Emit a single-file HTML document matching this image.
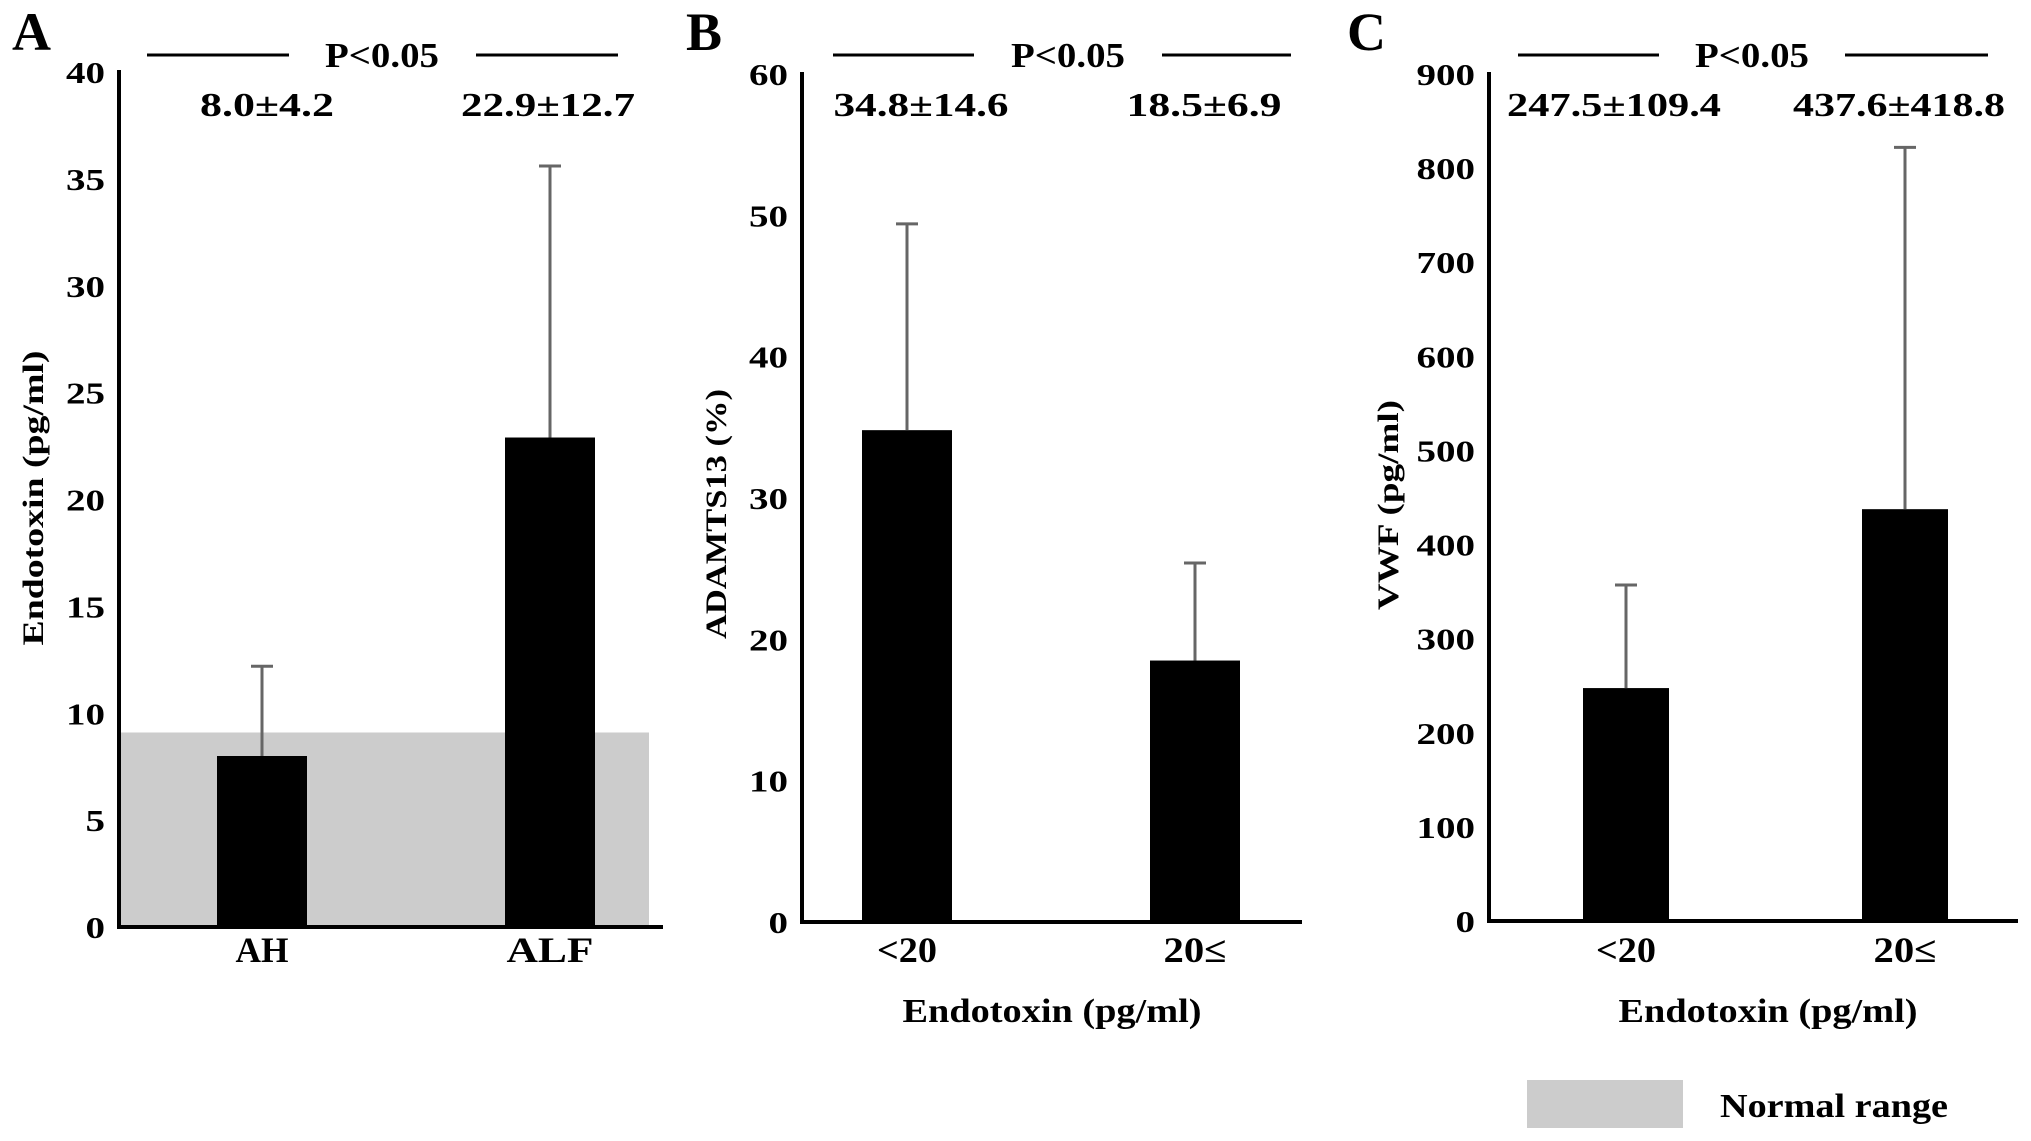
<!DOCTYPE html>
<html><head><meta charset="utf-8"><style>
html,body{margin:0;padding:0;background:#fff}
svg{display:block}
text{font-family:"Liberation Serif","DejaVu Serif",serif;font-weight:bold;fill:#000}
</style></head><body>
<svg id="chart" width="2031" height="1141" viewBox="0 0 2031 1141" xmlns="http://www.w3.org/2000/svg"></svg>
<script>
// Panel A data
const aCategories = ["AH", "ALF"];
const aMeans = [8.0, 22.9];
const aErrTops = [12.2, 35.6];
const aLabels = ["8.0±4.2", "22.9±12.7"];
const aTicks = [0, 5, 10, 15, 20, 25, 30, 35, 40];
const aNormalTop = [9.1];
// Panel B data
const bCategories = ["<20", "20≤"];
const bMeans = [34.8, 18.5];
const bErrTops = [49.4, 25.4];
const bLabels = ["34.8±14.6", "18.5±6.9"];
const bTicks = [0, 10, 20, 30, 40, 50, 60];
// Panel C data
const cCategories = ["<20", "20≤"];
const cMeans = [247.5, 437.6];
const cErrTops = [357, 822];
const cLabels = ["247.5±109.4", "437.6±418.8"];
const cTicks = [0, 100, 200, 300, 400, 500, 600, 700, 800, 900];

const NS = "http://www.w3.org/2000/svg";
const svg = document.getElementById("chart");
function mk(tag, attrs, parent, txt) {
  const e = document.createElementNS(NS, tag);
  for (const k in attrs) e.setAttribute(k, attrs[k]);
  if (txt !== undefined) e.textContent = txt;
  (parent || svg).appendChild(e);
  return e;
}

function panel(cfg) {
  const g = mk("g", {});
  
  
  const max = cfg.ticks[cfg.ticks.length - 1];
  const y = v => cfg.y0 - (v / max) * (cfg.y0 - cfg.yTop);
  if (cfg.normal) {
    const band = mk("rect", {x: cfg.ax, y: y(cfg.normal[0]), width: cfg.bandEnd - cfg.ax, height: cfg.y0 - y(cfg.normal[0]), fill: "#cccccc"}, g);
    
    
  }
  cfg.means.forEach((m, i) => {
    const bx = cfg.barX[i];
    const bar = mk("rect", {x: bx, y: y(m), width: cfg.barW, height: cfg.y0 - y(m), fill: "#000"}, g);
    
    
    const cx = bx + cfg.barW / 2;
    const eb = mk("path", {d: `M${cx} ${y(m)} V${y(cfg.errTops[i])} M${cx - 11} ${y(cfg.errTops[i])} H${cx + 11}`, stroke: "#666", "stroke-width": 3, fill: "none"}, g);
    
    
    const lbl = mk("text", {x: cx, y: 962, "font-size": 36, "text-anchor": "middle", textLength: cfg.catLen[i], lengthAdjust: "spacingAndGlyphs"}, g, cfg.cats[i]);
    
    
    const vl = mk("text", {x: cfg.valX[i], y: 116, "font-size": 34, "text-anchor": "middle", textLength: cfg.valLen[i], lengthAdjust: "spacingAndGlyphs"}, g, cfg.labels[i]);
    
    
  });
  const axes = mk("path", {d: `M${cfg.ax} ${cfg.yTop - 2} V${cfg.y0} H${cfg.axEnd}`, stroke: "#000", "stroke-width": 4, fill: "none"}, g);
  
  
  cfg.ticks.forEach(t => {
    const s = String(t);
    const tl = mk("text", {x: cfg.ax - 14, y: y(t) + 11, "font-size": 31, "text-anchor": "end", textLength: s.length * 19.5, lengthAdjust: "spacingAndGlyphs"}, g, s);
    
    
  });
  const yt = mk("text", {x: 0, y: 0, "font-size": 30, "text-anchor": "middle", textLength: cfg.ytLen, lengthAdjust: "spacingAndGlyphs", transform: `translate(${cfg.ytX},${cfg.ytY}) rotate(-90)`}, g, cfg.ytitle);
  
  
  if (cfg.xtitle) {
    const xt = mk("text", {x: cfg.xtX, y: 1022, "font-size": 34, "text-anchor": "middle", textLength: 299, lengthAdjust: "spacingAndGlyphs"}, g, cfg.xtitle);
    
    
  }
  const sl = mk("path", {d: `M${cfg.pL[0]} 55 H${cfg.pL[1]} M${cfg.pR[0]} 55 H${cfg.pR[1]}`, stroke: "#000", "stroke-width": 3}, g);
  
  
  const pt = mk("text", {x: cfg.pX, y: 67, "font-size": 35, "text-anchor": "middle", textLength: 114, lengthAdjust: "spacingAndGlyphs"}, g, "P<0.05");
  
  
  const pl = mk("text", {x: cfg.letterX, y: 50, "font-size": 54}, g, cfg.letter);
  
  
}

panel({name: "panel-a", letter: "A", letterX: 12, ax: 119, axEnd: 663, yTop: 72, y0: 927, bandEnd: 649,
  normal: aNormalTop, cats: aCategories, catLen: [53, 87], means: aMeans, errTops: aErrTops, labels: aLabels, valLen: [134, 174], ticks: aTicks,
  barX: [217, 505], barW: 90, valX: [267, 548], ytitle: "Endotoxin (pg/ml)", ytX: 43, ytY: 498, ytLen: 295,
  pL: [147, 289], pR: [476, 618], pX: 382});
panel({name: "panel-b", letter: "B", letterX: 686, ax: 802, axEnd: 1302, yTop: 74, y0: 922,
  cats: bCategories, catLen: [60, 63], means: bMeans, errTops: bErrTops, labels: bLabels, valLen: [175, 155], ticks: bTicks,
  barX: [862, 1150], barW: 90, valX: [921, 1204], ytitle: "ADAMTS13 (%)", ytX: 726, ytY: 514, ytLen: 250,
  xtitle: "Endotoxin (pg/ml)", xtX: 1052, pL: [833, 974], pR: [1162, 1291], pX: 1068});
panel({name: "panel-c", letter: "C", letterX: 1347, ax: 1489, axEnd: 2018, yTop: 74, y0: 921,
  cats: cCategories, catLen: [60, 63], means: cMeans, errTops: cErrTops, labels: cLabels, valLen: [214, 212], ticks: cTicks,
  barX: [1583, 1862], barW: 86, valX: [1614, 1899], ytitle: "VWF (pg/ml)", ytX: 1398, ytY: 505, ytLen: 210,
  xtitle: "Endotoxin (pg/ml)", xtX: 1768, pL: [1518, 1659], pR: [1845, 1988], pX: 1752});

const lg = mk("g", {});


const lr = mk("rect", {x: 1527, y: 1080, width: 156, height: 48, fill: "#cccccc"}, lg);


const lt = mk("text", {x: 1720, y: 1117, "font-size": 34, textLength: 228, lengthAdjust: "spacingAndGlyphs"}, lg, "Normal range");


</script>
</body></html>
